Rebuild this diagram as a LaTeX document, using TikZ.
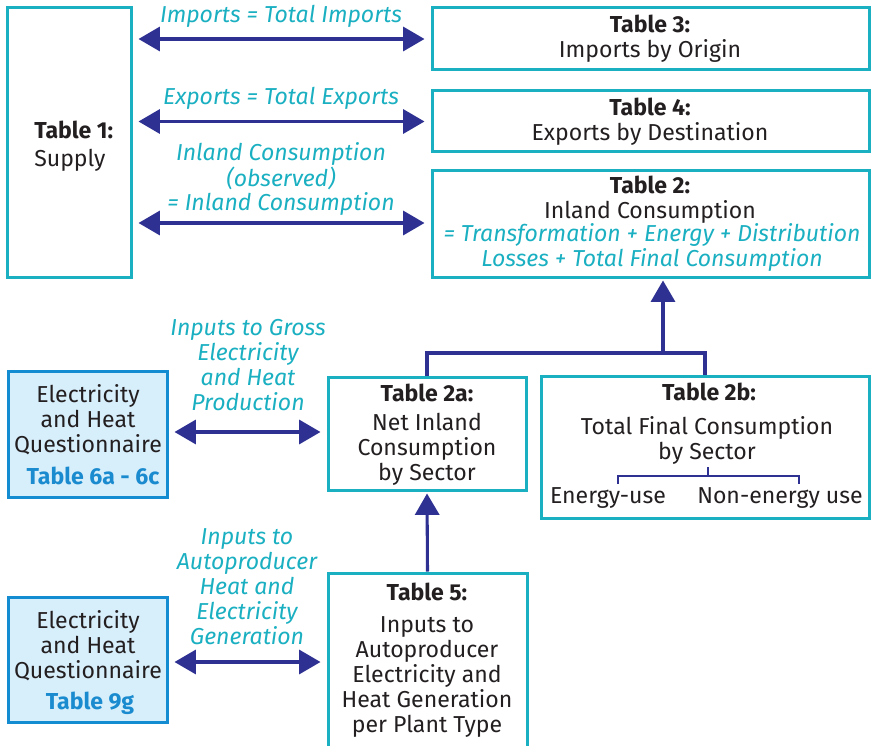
\documentclass[tikz,border=0pt]{standalone}
\usepackage{fontspec}
\setmainfont{Fira Sans}
\usetikzlibrary{arrows.meta}

\definecolor{boxteal}{RGB}{26,175,193}
\definecolor{arrownavy}{RGB}{46,49,146}
\definecolor{qfill}{RGB}{215,238,251}
\definecolor{qedge}{RGB}{20,140,210}
\definecolor{qtext}{RGB}{27,139,207}
\definecolor{ink}{RGB}{35,31,32}

\tikzset{
  tbox/.style={draw=boxteal, line width=2.25pt, rectangle, inner sep=0pt},
  qbox/.style={draw=qedge, fill=qfill, line width=2.25pt, rectangle, inner sep=0pt},
  body/.style={text=ink, font=\fontsize{17.3}{18.75}\selectfont, inner sep=0pt, align=center},
  title/.style={body, font=\fontsize{17.3}{18.75}\selectfont\bfseries},
  qlabel/.style={text=qtext, font=\fontsize{17.3}{18.75}\selectfont\bfseries, inner sep=0pt},
  flow/.style={text=boxteal, font=\fontsize{17.3}{17.6}\selectfont\itshape, inner sep=0pt, align=center},
  flowwide/.style={flow, font=\fontsize{17.3}{18.75}\selectfont\itshape},
  twoway/.style={draw=arrownavy, line width=2.3pt,
    {Triangle[length=16pt,width=18pt]}-{Triangle[length=16pt,width=18pt]},
    shorten <=4.5pt, shorten >=4.5pt},
  oneway/.style={draw=arrownavy, line width=2.3pt, -{Triangle[length=16pt,width=18pt]}},
  busline/.style={draw=arrownavy, line width=2.3pt},
  bracket/.style={draw=arrownavy, line width=2.2pt}
}

\begin{document}
\begin{tikzpicture}[x=0.75pt,y=-0.75pt]
\clip (0,0) rectangle (873,745);

% boxes
\node[tbox, minimum width=124*0.75pt, minimum height=269*0.75pt] (t1) at (69,142.5) {};
\node[tbox, minimum width=437*0.75pt, minimum height=62*0.75pt] (t3) at (650.5,39) {};
\node[tbox, minimum width=437*0.75pt, minimum height=61*0.75pt] (t4) at (650.5,121.5) {};
\node[tbox, minimum width=437*0.75pt, minimum height=106*0.75pt] (t2) at (650.5,224) {};
\node[qbox, minimum width=159*0.75pt, minimum height=126*0.75pt] (q1) at (87.5,434) {};
\node[tbox, minimum width=198*0.75pt, minimum height=113*0.75pt] (t2a) at (427,433.5) {};
\node[tbox, minimum width=328*0.75pt, minimum height=142*0.75pt] (t2b) at (705,447) {};
\node[qbox, minimum width=159*0.75pt, minimum height=125*0.75pt] (q2) at (87.5,659.5) {};
\node[tbox, minimum width=199*0.75pt, minimum height=187*0.75pt] (t5) at (427.5,666.5) {};

% box texts
\node[title, anchor=west] (t1h) at (34,130) {Table 1:};
\node[body, anchor=west] (t1b) at (34,160) {Supply};
\node[body] (t3b) at (650,39) {\textbf{Table 3:}\\Imports by Origin};
\node[body] (t4b) at (650,122) {\textbf{Table 4:}\\Exports by Destination};
\node[body] (t2t) at (650,199.5) {\textbf{Table 2:}\\Inland Consumption};
\node[flowwide] (t2f) at (652,247) {= Transformation + Energy + Distribution\\Losses + Total Final Consumption};
\node[title] (t2ah) at (427,393) {Table 2a:};
\node[body] (t2ab) at (427,449) {Net Inland\\Consumption\\by Sector};
\node[title] (t2bh) at (709,392) {Table 2b:};
\node[body] (t2bb) at (707,440) {Total Final Consumption\\by Sector};
\node[body] (eu) at (608,498) {Energy-use};
\node[body] (neu) at (780,498) {Non-energy use};
\node[body] (q1b) at (88,420) {Electricity\\and Heat\\Questionnaire};
\node[qlabel] (q1l) at (93,476) {Table 6a - 6c};
\node[body] (q2b) at (88,646) {Electricity\\and Heat\\Questionnaire};
\node[qlabel] (q2l) at (90,703) {Table 9g};
\node[title] (t5h) at (427,592) {Table 5:};
\node[body] (t5b) at (427,677) {Inputs to\\Autoproducer\\Electricity and\\Heat Generation\\per Plant Type};

% flow labels
\node[flow] (limp) at (281,16) {Imports = Total Imports};
\node[flow] (lexp) at (281,98) {Exports = Total Exports};
\node[flow] (lic) at (281,179) {Inland Consumption\\(observed)\\= Inland Consumption};
\node[flowwide] (lgross) at (248,365) {Inputs to Gross\\Electricity\\and Heat\\Production};
\node[flowwide] (lauto) at (247,587) {Inputs to\\Autoproducer\\Heat and\\Electricity\\Generation};

% two-way connectors
\draw[twoway] (t1.east |- t3.west) -- (t3.west);
\draw[twoway] (t1.east |- t4.west) -- (t4.west);
\draw[twoway] (t1.east |- 0,223) -- (t2.west |- 0,223);
\draw[twoway] (q1.east |- 0,432) -- (t2a.west |- 0,432);
\draw[twoway] (q2.east |- 0,662) -- (t5.west |- 0,662);

% upward connectors
\coordinate (bus) at (663,353);
\draw[busline] (t2a.north) |- (bus) -| (t2b.north);
\draw[oneway, shorten >=1.5pt] (bus) -- (bus |- t2.south);
\draw[oneway, shorten >=1.5pt] (t5.north) -- (t2a.south);

% split of final consumption
\coordinate (brtop) at (708,467);
\coordinate (brmid) at (708,476);
\coordinate (brl) at (618,484);
\coordinate (brr) at (799,484);
\draw[bracket] (brtop) -- (brmid);
\draw[bracket] (brl) |- (brmid) -| (brr);
\end{tikzpicture}
\end{document}
